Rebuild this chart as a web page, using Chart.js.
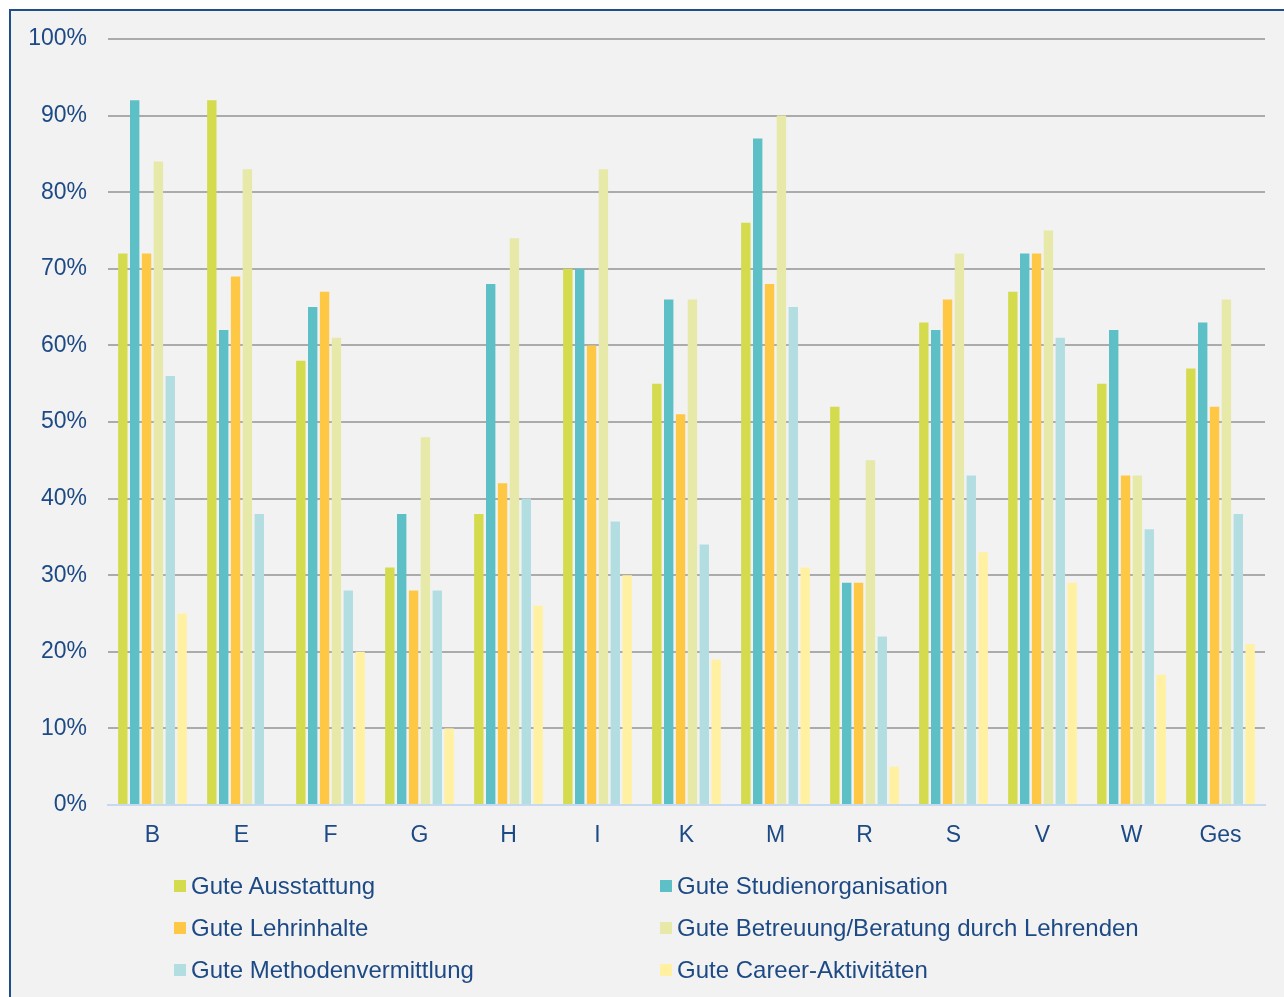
<!DOCTYPE html>
<html>
<head>
<meta charset="utf-8">
<script src="https://cdn.jsdelivr.net/npm/chart.js@4/dist/chart.umd.min.js"></script>
<style>
  html, body { margin: 0; padding: 0; background: #ffffff; }
  body { width: 1284px; height: 997px; overflow: hidden; position: relative; font-family: "Liberation Sans", Arial, sans-serif; }
  #frame { position: absolute; left: 9px; top: 9px; width: 1290px; height: 1010px; border: 2px solid #1F4E8C; background: #F2F2F2; box-sizing: border-box; }
  #wrap { position: absolute; left: 0; top: 0; width: 1284px; height: 860px; }
  #legend { position: absolute; left: 0; top: 0; width: 1284px; height: 997px; pointer-events: none; }
  .li { position: absolute; display: flex; align-items: center; font-size: 24px; color: #1D4A85; white-space: nowrap; }
  .sw { width: 12px; height: 12px; margin-right: 5px; }
</style>
</head>
<body>
<div id="frame"></div>
<div id="wrap"><canvas id="c" width="1284" height="860"></canvas></div>
<div id="legend"></div>
<script>
const categories = ["B", "E", "F", "G", "H", "I", "K", "M", "R", "S", "V", "W", "Ges"];
const seriesNames = [
  "Gute Ausstattung",
  "Gute Studienorganisation",
  "Gute Lehrinhalte",
  "Gute Betreuung/Beratung durch Lehrenden",
  "Gute Methodenvermittlung",
  "Gute Career-Aktivitäten"
];
const ausstattung      = [72, 92, 58, 31, 38, 70, 55, 76, 52, 63, 67, 55, 57];
const studienorg       = [92, 62, 65, 38, 68, 70, 66, 87, 29, 62, 72, 62, 63];
const lehrinhalte      = [72, 69, 67, 28, 42, 60, 51, 68, 29, 66, 72, 43, 52];
const betreuung        = [84, 83, 61, 48, 74, 83, 66, 90, 45, 72, 75, 43, 66];
const methoden         = [56, 38, 28, 28, 40, 37, 34, 65, 22, 43, 61, 36, 38];
const career           = [25, 0, 20, 10, 26, 30, 19, 31, 5, 33, 29, 17, 21];
const yTicks = [0, 10, 20, 30, 40, 50, 60, 70, 80, 90, 100];

const colors = ["#D4DB4C", "#5CC0C6", "#FEC744", "#E7E9A8", "#B3DEE1", "#FFF1A1"];
const values = [ausstattung, studienorg, lehrinhalte, betreuung, methoden, career];
const textColor = "#1D4A85";
const fontFamily = '"Liberation Sans", Arial, sans-serif';

const datasets = seriesNames.map((name, i) => ({
  label: name,
  data: values[i],
  backgroundColor: colors[i],
  borderWidth: 0,
  categoryPercentage: 0.80,
  barPercentage: 0.79
}));

new Chart(document.getElementById("c"), {
  type: "bar",
  data: { labels: categories, datasets },
  options: {
    responsive: false,
    animation: false,
    devicePixelRatio: 1,
    layout: { padding: { top: 39, right: 19, left: 0, bottom: 0 } },
    plugins: { legend: { display: false }, tooltip: { enabled: false } },
    scales: {
      x: {
        grid: { display: false, drawTicks: false },
        border: { display: true, color: "#C6D9F1", width: 2 },
        ticks: { color: textColor, font: { family: fontFamily, size: 23 }, padding: 17 },
        afterFit: (s) => { s.height = 55; }
      },
      y: {
        min: 0, max: 100,
        afterBuildTicks: (s) => { s.ticks = yTicks.map(v => ({ value: v })); },
        grid: {
          drawTicks: false,
          color: (ctx) => ctx.tick && ctx.tick.value === 0 ? "rgba(0,0,0,0)" : "#ABABAB",
          lineWidth: 2
        },
        border: { display: false },
        ticks: {
          color: textColor,
          font: { family: fontFamily, size: 23 },
          padding: 21,
          callback: (v) => v + "%"
        },
        afterFit: (s) => { s.width = 108; }
      }
    }
  }
});

// HTML legend in two columns, built from the series names
const legend = document.getElementById("legend");
const colX = [174, 660];
const rowY = [886, 928, 970];
seriesNames.forEach((name, i) => {
  const d = document.createElement("div");
  d.className = "li";
  d.style.left = colX[i % 2] + "px";
  d.style.top = (rowY[Math.floor(i / 2)] - 14) + "px";
  d.style.height = "28px";
  const sw = document.createElement("span");
  sw.className = "sw";
  sw.style.background = colors[i];
  const t = document.createElement("span");
  t.textContent = name;
  d.appendChild(sw);
  d.appendChild(t);
  legend.appendChild(d);
});
</script>
</body>
</html>
